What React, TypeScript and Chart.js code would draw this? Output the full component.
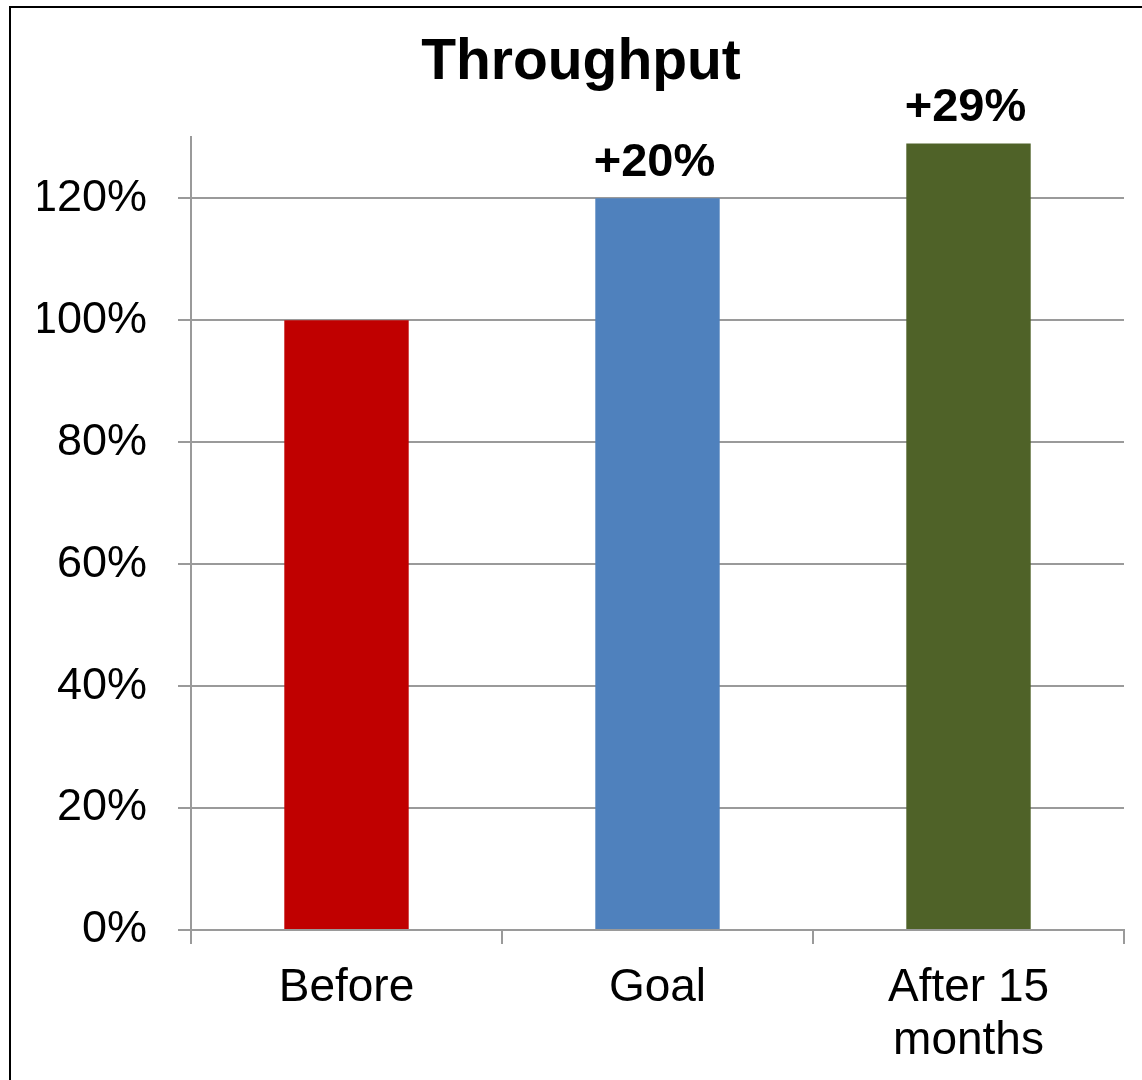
import React, { useEffect, useRef } from "react";
import { Chart, registerables } from "chart.js";

Chart.register(...registerables);

const chartTitle = "Throughput";
const categories: (string | string[])[] = ["Before", "Goal", ["After 15", "months"]];
const values = [100, 120, 129];
const valueLabels = ["", "+20%", "+29%"];
const barColors = ["#C00000", "#4F81BD", "#4F6228"];
const yMin = 0;
const yMax = 130;
const yStep = 20;
const yLastTick = 120;

const FONT = '"Liberation Sans", Arial, Helvetica, sans-serif';
const GRID = "#9a9a9a";

const valueLabelPlugin = {
  id: "valueLabels",
  afterDatasetsDraw(chart: any) {
    const ctx = chart.ctx;
    const meta = chart.getDatasetMeta(0);
    ctx.save();
    ctx.font = `bold 47px ${FONT}`;
    ctx.fillStyle = "#000";
    ctx.textAlign = "center";
    ctx.textBaseline = "alphabetic";
    meta.data.forEach((bar: any, i: number) => {
      const t = valueLabels[i];
      if (!t) return;
      ctx.fillText(t, bar.x - 3, bar.y - 22);
    });
    ctx.restore();
  },
};

export default function App() {
  const ref = useRef<HTMLCanvasElement | null>(null);

  useEffect(() => {
    if (!ref.current) return;
    const chart = new Chart(ref.current, {
      type: "bar",
      data: {
        labels: categories as any,
        datasets: [
          {
            data: values,
            backgroundColor: barColors,
            borderWidth: 0,
            categoryPercentage: 1,
            barPercentage: 0.4,
          },
        ],
      },
      options: {
        animation: false,
        responsive: false,
        maintainAspectRatio: false,
        layout: { padding: { left: 27, right: 27, top: 0, bottom: 0 } },
        plugins: {
          legend: { display: false },
          tooltip: { enabled: false },
          title: {
            display: true,
            text: chartTitle,
            color: "#000",
            font: { family: FONT, size: 57, weight: "bold", lineHeight: 1.2 },
            padding: { top: 21, bottom: 40 },
          },
        },
        scales: {
          x: {
            grid: {
              display: true,
              drawOnChartArea: false,
              drawTicks: true,
              tickLength: 14,
              color: GRID,
              lineWidth: 2,
              offset: true,
            },
            border: { display: true, color: GRID, width: 2 },
            ticks: {
              color: "#000",
              font: { family: FONT, size: 46, lineHeight: 1.17 },
              padding: 17,
              maxRotation: 0,
              autoSkip: false,
            },
            afterFit(scale: any) {
              scale.height = 152;
            },
          },
          y: {
            min: yMin,
            max: yMax,
            grid: {
              display: true,
              drawOnChartArea: true,
              drawTicks: true,
              tickLength: 13,
              color: GRID,
              lineWidth: 2,
            },
            border: { display: true, color: GRID, width: 2 },
            ticks: {
              stepSize: yStep,
              color: "#000",
              font: { family: FONT, size: 45 },
              padding: 31,
              callback: (v: any) => `${v}%`,
            },
            afterBuildTicks(scale: any) {
              scale.ticks = scale.ticks.filter((t: any) => t.value <= yLastTick);
            },
            afterFit(scale: any) {
              scale.width = 153;
            },
          },
        },
      },
      plugins: [valueLabelPlugin],
    });
    return () => chart.destroy();
  }, []);

  return (
    <div
      style={{
        position: "fixed",
        left: 0,
        top: 0,
        width: 1142,
        height: 1080,
        overflow: "hidden",
        background: "#fff",
      }}
    >
      <div
        style={{
          position: "absolute",
          left: 9,
          top: 6,
          width: 1140,
          height: 1090,
          border: "2px solid #000",
          background: "#fff",
        }}
      >
        <canvas ref={ref} width={1140} height={1074} style={{ display: "block" }} />
      </div>
    </div>
  );
}
